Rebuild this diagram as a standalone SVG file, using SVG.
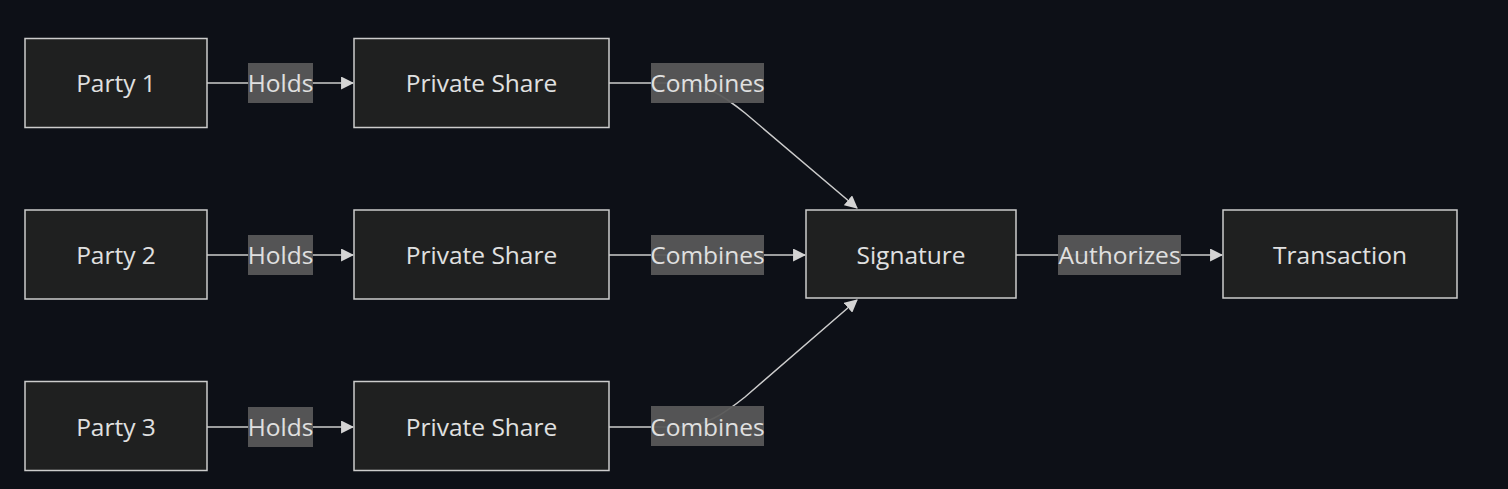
<svg xmlns="http://www.w3.org/2000/svg" width="1508" height="489" viewBox="0 0 1508 489">
<defs>
<marker id="arrow" viewBox="0 0 12 12" refX="11" refY="6" markerWidth="13" markerHeight="13" markerUnits="userSpaceOnUse" orient="auto">
<path d="M0,0 L12,6 L0,12 z" fill="#d4d4d4"/>
</marker>
<style>
.node rect{fill:#1f2020;stroke:#cccccc;stroke-width:1.5}
.node text,.lbl text{font-family:"Open Sans","DejaVu Sans",sans-serif;font-size:24.5px;fill:#e0e0e0;text-anchor:middle}
.edge{fill:none;stroke:#cccccc;stroke-width:1.5;marker-end:url(#arrow)}
.lbl rect{fill:#585858;opacity:0.95}
</style>
</defs>
<rect width="1508" height="489" fill="#0d1017"/>
<g id="connectors">
<path class="edge" d="M207,83 L353,83"/>
<path class="edge" d="M207,255 L353,255"/>
<path class="edge" d="M207,427 L353,427"/>
<path class="edge" d="M609,83 L680,83 C705,83 725,97 745,113 L857,208"/>
<path class="edge" d="M609,255 L805,255"/>
<path class="edge" d="M609,427 L680,427 C705,427 725,413 745,397 L857,300"/>
<path class="edge" d="M1016,255 L1222,255"/>
<g class="lbl"><rect x="248" y="63" width="65" height="40"/><text x="280.5" y="92">Holds</text></g>
<g class="lbl"><rect x="248" y="235" width="65" height="40"/><text x="280.5" y="264">Holds</text></g>
<g class="lbl"><rect x="248" y="407" width="65" height="40"/><text x="280.5" y="436">Holds</text></g>
<g class="lbl"><rect x="651" y="63" width="113" height="40"/><text x="707.5" y="92">Combines</text></g>
<g class="lbl"><rect x="651" y="235" width="113" height="40"/><text x="707.5" y="264">Combines</text></g>
<g class="lbl"><rect x="651" y="406" width="113" height="40"/><text x="707.5" y="436">Combines</text></g>
<g class="lbl"><rect x="1058" y="235" width="123" height="40"/><text x="1119.5" y="264">Authorizes</text></g>
</g>
<g id="party1" class="node"><rect x="25" y="38.5" width="182" height="89"/><text x="116" y="92">Party 1</text></g>
<g id="party2" class="node"><rect x="25" y="210" width="182" height="89"/><text x="116" y="264">Party 2</text></g>
<g id="party3" class="node"><rect x="25" y="381.5" width="182" height="89"/><text x="116" y="436">Party 3</text></g>
<g id="share1" class="node"><rect x="354" y="38.5" width="255" height="89"/><text x="481.5" y="92">Private Share</text></g>
<g id="share2" class="node"><rect x="354" y="210" width="255" height="89"/><text x="481.5" y="264">Private Share</text></g>
<g id="share3" class="node"><rect x="354" y="381.5" width="255" height="89"/><text x="481.5" y="436">Private Share</text></g>
<g id="signature" class="node"><rect x="806" y="210" width="210" height="88"/><text x="911" y="264">Signature</text></g>
<g id="transaction" class="node"><rect x="1223" y="210" width="234" height="88"/><text x="1340" y="264">Transaction</text></g>
</svg>
